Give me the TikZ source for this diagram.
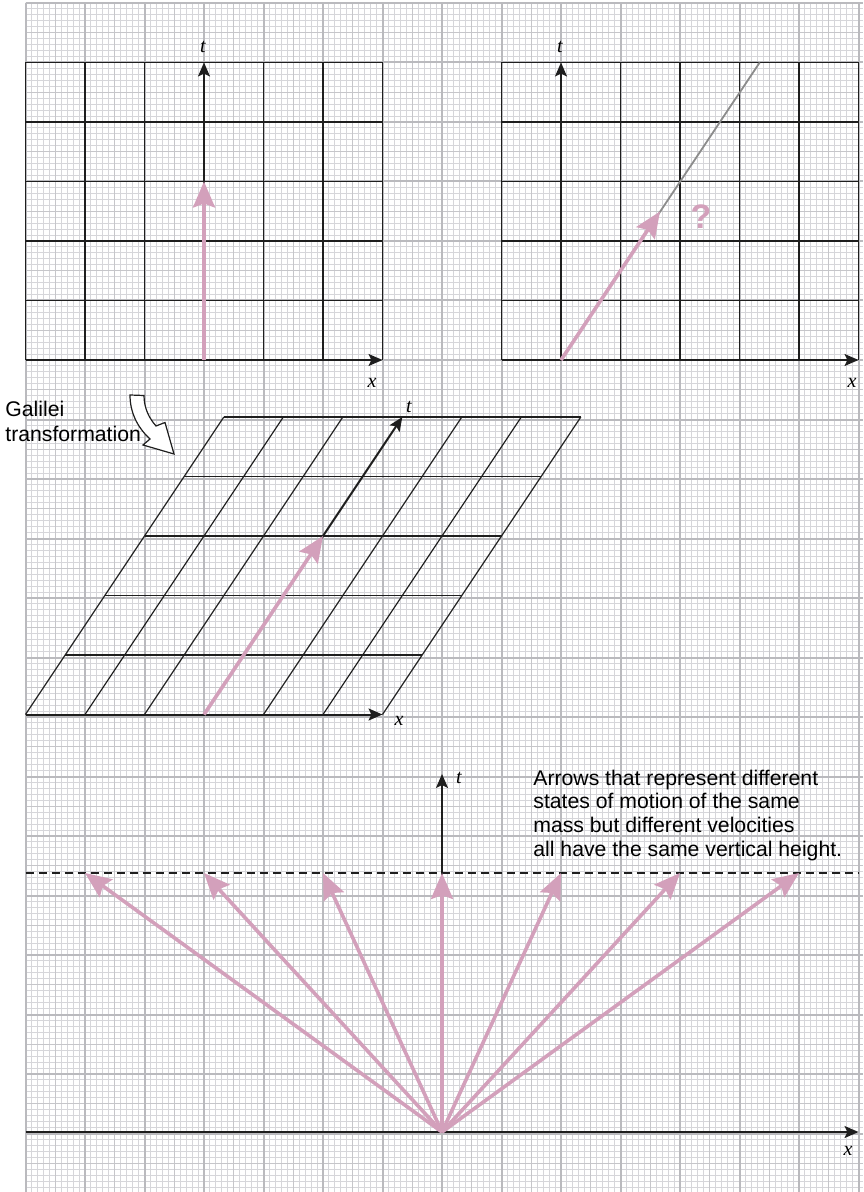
\documentclass[tikz,border=0pt]{standalone}
\usepackage{fontspec}
\setmainfont{Liberation Serif}
\newfontfamily\helv{Liberation Sans}
\usetikzlibrary{arrows.meta}
\definecolor{pinkarrow}{RGB}{211,160,187}
\definecolor{gminor}{RGB}{214,214,218}
\definecolor{gmid}{RGB}{198,198,202}
\definecolor{gmajor}{RGB}{186,186,190}
\definecolor{ink}{RGB}{30,30,30}
\definecolor{ghost}{RGB}{140,140,140}
\tikzset{
  minorline/.style={gminor, line width=0.5pt},
  midline/.style={gmid, line width=0.65pt},
  majorline/.style={gmajor, line width=1pt},
  gridline/.style={ink, line width=0.6pt},
  axis/.style={ink, line width=1pt, -{Stealth[length=7pt,width=6pt,inset=1.5pt]}},
  pinkvec/.style={pinkarrow, line width=1.8pt, -{Stealth[length=13pt,width=11pt,inset=2pt]}},
  axlabel/.style={font=\fontsize{10}{12}\selectfont\itshape, inner sep=0pt, anchor=base},
  note/.style={font=\helv\fontsize{10.6}{12}\selectfont, inner sep=0pt, anchor=base west},
}
\begin{document}
\begin{tikzpicture}[x=0.5pt,y=-0.5pt]
\useasboundingbox (0,0) rectangle (863,1192);
\fill[white] (0,0) rectangle (863,1192);
% ---------- graph paper ----------
\foreach \i in {0,...,140}{\pgfmathsetmacro\xx{25.5+5.95*\i}\draw[minorline] (\xx,3) -- (\xx,1192);}
\foreach \j in {0,...,199}{\pgfmathsetmacro\yy{3+5.95*\j}\draw[minorline] (25.5,\yy) -- (863,\yy);}
\foreach \i in {0,5,...,140}{\pgfmathsetmacro\xx{25.5+5.95*\i}\draw[midline] (\xx,3) -- (\xx,1192);}
\foreach \j in {0,5,...,195}{\pgfmathsetmacro\yy{3+5.95*\j}\draw[midline] (25.5,\yy) -- (863,\yy);}
\foreach \i in {0,10,...,140}{\pgfmathsetmacro\xx{25.5+5.95*\i}\draw[majorline] (\xx,3) -- (\xx,1192);}
\foreach \j in {0,10,...,190}{\pgfmathsetmacro\yy{3+5.95*\j}\draw[majorline] (25.5,\yy) -- (863,\yy);}

% ---------- top left ----------
\coordinate (OA) at (204,360);
\coordinate (XA) at (382.5,360);
\coordinate (TA) at (204,62.5);
\coordinate (PA) at (204,181.5);
\foreach \xx in {25.5,85,144.5,263.5,323,382.5}{\draw[gridline] (\xx,62.5) -- (\xx,360);}
\foreach \yy in {62.5,122,181.5,241,300.5}{\draw[gridline] (25.5,\yy) -- (382.5,\yy);}
\draw[axis] (25.5,360) -- (XA);
\draw[axis] (OA) -- (TA);
\draw[pinkvec] (OA) -- (PA);
\node[axlabel] (tA) at (203,53) {t};
\node[axlabel] (xA) at (372,387) {x};

% ---------- top right ----------
\coordinate (OB) at (561,360);
\coordinate (XB) at (858.5,360);
\coordinate (TB) at (561,62.5);
\coordinate (PB) at (660,211.5);
\coordinate (GB) at (759.7,62.5);
\foreach \xx in {501.5,620.5,680,739.5,799,858.5}{\draw[gridline] (\xx,62.5) -- (\xx,360);}
\foreach \yy in {62.5,122,181.5,241,300.5}{\draw[gridline] (501.5,\yy) -- (858.5,\yy);}
\draw[axis] (501.5,360) -- (XB);
\draw[axis] (OB) -- (TB);
\draw[ghost, line width=0.9pt] (OB) -- (GB);
\draw[pinkvec] (OB) -- (PB);
\node[axlabel] (tB) at (560,53) {t};
\node[axlabel] (xB) at (852,387) {x};
\node[font=\helv\bfseries\fontsize{17}{17}\selectfont, text=pinkarrow, inner sep=0pt] (q) at (701,217) {?};

% ---------- Galilei transformation ----------
\node[note] (gal1) at (5,416.7) {Galilei};
\node[note] (gal2) at (5,441.7) {transformation};
\draw[ink, line width=0.6pt, fill=white]
  (130,395) -- (144,395.5) .. controls (144,408) and (149,418) .. (156,426)
  -- (165,422.5) -- (174,454) -- (143,445) -- (150,439)
  .. controls (137,427) and (130,412) .. (130,395) -- cycle;

% ---------- sheared grid ----------
\coordinate (OC) at (204,714.5);
\coordinate (XC) at (382.5,714.5);
\coordinate (TC) at (402.3,417);
\coordinate (PC) at (323,536);
\foreach \k in {0,1,2,4,5,6}{\pgfmathsetmacro\bx{25.5+59.5*\k}\pgfmathsetmacro\tx{\bx+198.3}
  \draw[gridline] (\bx,714.5) -- (\tx,417);}
\foreach \h in {1,...,5}{\pgfmathsetmacro\yy{714.5-59.5*\h}\pgfmathsetmacro\xl{25.5+39.67*\h}\pgfmathsetmacro\xr{382.5+39.67*\h}
  \draw[gridline] (\xl,\yy) -- (\xr,\yy);}
\draw[axis] (25.5,714.5) -- (XC);
\draw[axis] (OC) -- (TC);
\draw[pinkvec] (OC) -- (PC);
\node[axlabel] (tC) at (409,412) {t};
\node[axlabel] (xC) at (399,725) {x};

% ---------- bottom ----------
\coordinate (OD) at (442,1132);
\coordinate (XD) at (858.5,1132);
\coordinate (TD) at (442,774);
\draw[ink, line width=0.6pt, dash pattern=on 4pt off 2.5pt] (25.5,873) -- (858.5,873);
\draw[axis] (25.5,1132) -- (XD);
\draw[axis] (OD) -- (TD);
\foreach \k in {-3,...,3}{\pgfmathsetmacro\px{442+119*\k}
  \coordinate (P\k) at (\px,873);
  \draw[pinkvec] (OD) -- (P\k);}
\node[axlabel] (tD) at (459,783) {t};
\node[axlabel] (xD) at (848,1155) {x};
\node[note] (n1) at (533,785) {Arrows that represent different};
\node[note] (n2) at (533,808.7) {states of motion of the same};
\node[note] (n3) at (533,832.4) {mass but different velocities};
\node[note] (n4) at (533,856.1) {all have the same vertical height.};
\end{tikzpicture}
\end{document}
